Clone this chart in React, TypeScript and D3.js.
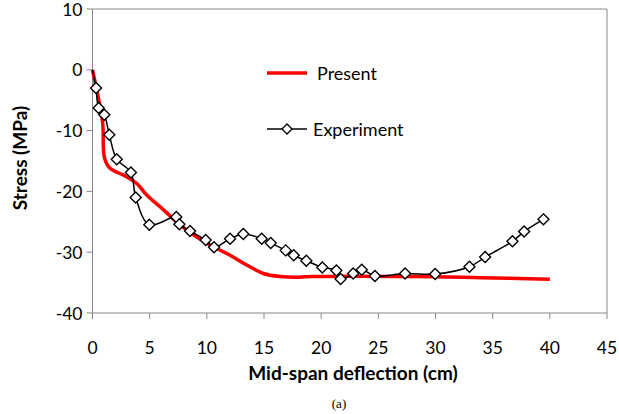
import React from "react";
import * as d3 from "d3";

const xTicks = [0, 5, 10, 15, 20, 25, 30, 35, 40, 45];
const yTicks = [10, 0, -10, -20, -30, -40];

const presentX = [0, 0.5, 0.89, 1.05, 1.53, 2.69, 3.87, 4.74, 6.19, 7.66, 9.12, 10.57, 12.03, 13.49, 14.94, 16.4, 18.07, 19.3, 28.0, 33.9, 40.0];
const presentY = [0, -4.5, -8.75, -14.5, -16.2, -17.3, -18.7, -20.6, -23.0, -25.5, -27.5, -29.1, -30.5, -32.1, -33.5, -34.0, -34.1, -34.0, -34.0, -34.2, -34.45];

const expX = [0, 0.31, 0.54, 1.03, 1.47, 2.12, 3.36, 3.78, 4.97, 7.33, 7.6, 8.53, 9.9, 10.63, 12.03, 13.19, 14.8, 15.59, 16.9, 17.6, 18.7, 20.1, 21.33, 21.7, 22.8, 23.55, 24.7, 27.34, 29.97, 32.97, 34.34, 36.73, 37.75, 39.44];
const expY = [0, -3.0, -6.3, -7.4, -10.7, -14.7, -16.9, -21.0, -25.5, -24.2, -25.4, -26.5, -28.0, -29.2, -27.8, -27.0, -27.8, -28.5, -29.7, -30.5, -31.4, -32.5, -33.0, -34.4, -33.5, -32.9, -33.9, -33.5, -33.6, -32.4, -30.8, -28.2, -26.6, -24.6];

const seriesNames = ["Present", "Experiment"];

const W = 619;
const H = 414;
const left = 92.5;
const right = 607;
const top = 9;
const bottom = 313;
const AX = "#868686";
const FONT = "Lato, 'Open Sans', sans-serif";

function diamond(cx: number, cy: number, r: number) {
  return `M${cx},${cy - r}L${cx + r},${cy}L${cx},${cy + r}L${cx - r},${cy}Z`;
}

export default function App() {
  const x = d3.scaleLinear().domain([0, 45]).range([left, right]);
  const y = d3.scaleLinear().domain([-40, 10]).range([bottom, top]);

  const present: [number, number][] = presentX.map((v, i) => [v, presentY[i]]);
  const exp: [number, number][] = expX.map((v, i) => [v, expY[i]]);

  const redLine = d3
    .line<[number, number]>()
    .x((d) => x(d[0]))
    .y((d) => y(d[1]))
    .curve(d3.curveCatmullRom.alpha(0.5))(present) as string;
  const blackLine = d3
    .line<[number, number]>()
    .x((d) => x(d[0]))
    .y((d) => y(d[1]))
    .curve(d3.curveCatmullRom.alpha(0.5))(exp) as string;

  return (
    <svg
      width={W}
      height={H}
      style={{ position: "absolute", left: 0, top: 0, background: "#fff" }}
    >
      {/* frame */}
      <line x1={left} x2={right} y1={top} y2={top} stroke={AX} strokeWidth={1} />
      <line x1={right} x2={right} y1={top} y2={bottom} stroke={AX} strokeWidth={1} />
      {/* axes */}
      <line x1={left} x2={left} y1={top} y2={bottom} stroke={AX} strokeWidth={1} />
      <line x1={left} x2={right} y1={bottom} y2={bottom} stroke={AX} strokeWidth={1} />
      {yTicks.map((t) => (
        <g key={"y" + t}>
          <line x1={left - 6} x2={left} y1={y(t)} y2={y(t)} stroke={AX} />
          <text
            x={left - 10}
            y={y(t)}
            textAnchor="end"
            dominantBaseline="central"
            fontFamily={FONT}
            fontSize={17.5}
            fill="#000"
          >
            {t}
          </text>
        </g>
      ))}
      {xTicks.map((t) => (
        <g key={"x" + t}>
          <line x1={x(t)} x2={x(t)} y1={bottom} y2={bottom + 6} stroke={AX} />
          <text
            x={x(t)}
            y={347}
            textAnchor="middle"
            dominantBaseline="central"
            fontFamily={FONT}
            fontSize={17.5}
            fill="#000"
          >
            {t}
          </text>
        </g>
      ))}
      <text
        x={353}
        y={372}
        textAnchor="middle"
        dominantBaseline="central"
        fontFamily={FONT}
        fontWeight="bold"
        fontSize={19}
      >
        Mid-span deflection (cm)
      </text>
      <text
        transform={`translate(19,158) rotate(-90)`}
        textAnchor="middle"
        dominantBaseline="central"
        fontFamily={FONT}
        fontWeight="bold"
        fontSize={19}
      >
        Stress (MPa)
      </text>
      <text
        x={339}
        y={403}
        textAnchor="middle"
        dominantBaseline="central"
        fontFamily="'Liberation Serif', 'Times New Roman', serif"
        fontSize={13}
      >
        (a)
      </text>

      {/* series */}
      <path d={redLine} fill="none" stroke="#ff0000" strokeWidth={3.5} />
      <path d={blackLine} fill="none" stroke="#000" strokeWidth={1.5} />
      {exp.slice(1).map((d, i) => (
        <path
          key={"m" + i}
          d={diamond(x(d[0]), y(d[1]), 5.5)}
          fill="#fff"
          stroke="#000"
          strokeWidth={1.4}
        />
      ))}

      {/* legend */}
      <line x1={267} x2={307} y1={73} y2={73} stroke="#ff0000" strokeWidth={3.5} />
      <text x={317} y={73} dominantBaseline="central" fontFamily={FONT} fontSize={18}>
        {seriesNames[0]}
      </text>
      <line x1={267} x2={307} y1={129} y2={129} stroke="#000" strokeWidth={1.5} />
      <path d={diamond(287, 129, 5)} fill="#fff" stroke="#000" strokeWidth={1.4} />
      <text x={313} y={129} dominantBaseline="central" fontFamily={FONT} fontSize={18}>
        {seriesNames[1]}
      </text>
    </svg>
  );
}
